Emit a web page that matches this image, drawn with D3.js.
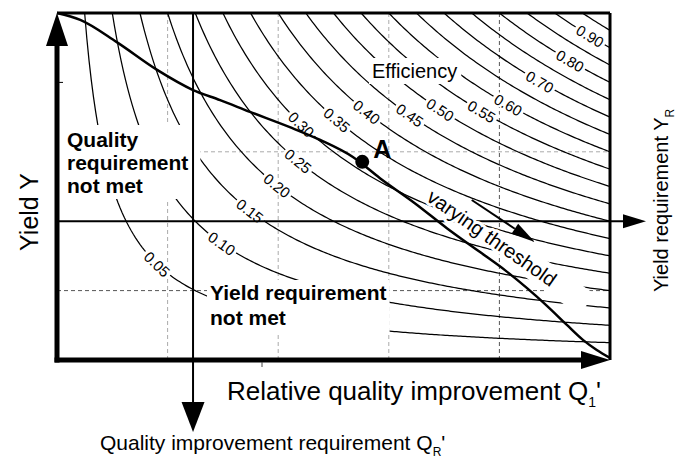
<!DOCTYPE html>
<html>
<head>
<meta charset="utf-8">
<script src="https://cdn.jsdelivr.net/npm/d3@7"></script>
<style>
  body { margin: 0; background: #fff; }
  svg { display: block; font-family: Arial, "Liberation Sans", sans-serif; }
</style>
</head>
<body>
<div id="chart"></div>
<script>
// efficiency iso-lines, E = Q1' * Y
const levels = [0.05, 0.10, 0.15, 0.20, 0.25, 0.30, 0.35, 0.40, 0.45, 0.50,
                0.55, 0.60, 0.65, 0.70, 0.75, 0.80, 0.85, 0.90, 0.95];
// labelled levels and where (Q1') the label sits on its line
const labelLevels = [0.05, 0.10, 0.15, 0.20, 0.25, 0.30, 0.35, 0.40, 0.45, 0.50, 0.55, 0.60, 0.70, 0.80, 0.90];
const labelQ = [0.181, 0.298, 0.349, 0.398, 0.436, 0.442, 0.506, 0.560, 0.638, 0.693, 0.768, 0.816, 0.873, 0.928, 0.964];

// varying threshold curve
const thrQ = [0, 0.042, 0.108, 0.181, 0.246, 0.295, 0.349, 0.421, 0.476, 0.535, 0.584, 0.647,
              0.705, 0.765, 0.810, 0.850, 0.886, 0.922, 0.951, 0.976, 1.0];
const thrY = [1.0, 0.980, 0.916, 0.836, 0.778, 0.749, 0.715, 0.671, 0.634, 0.585, 0.524, 0.452,
              0.380, 0.311, 0.259, 0.207, 0.156, 0.101, 0.058, 0.029, 0.006];

const gridQ = [0.2, 0.4, 0.6, 0.8];
const gridY = [0.2, 0.6];
const reqQ = 0.246;      // Q_R'
const reqY = 0.4;        // Y_R
const pointA = [0.552, 0.571];
const shiftArrow = [[0.750, 0.461], [0.864, 0.340]];

const W = 676, H = 464;
const x = d3.scaleLinear().domain([0, 1]).range([57, 610]);
const y = d3.scaleLinear().domain([0, 1]).range([360, 13]);

const svg = d3.select("#chart").append("svg")
    .attr("width", W)
    .attr("height", H);

// grid
svg.append("g").selectAll("line")
  .data(gridQ)
  .join("line")
    .attr("x1", d => x(d)).attr("x2", d => x(d))
    .attr("y1", y(1)).attr("y2", y(0))
    .attr("stroke", d => d == 0.8 ? "#555" : "#aaa")
    .attr("stroke-width", 1)
    .attr("stroke-dasharray", "4,3");
svg.append("g").selectAll("line")
  .data(gridY)
  .join("line")
    .attr("x1", x(0)).attr("x2", x(1))
    .attr("y1", d => y(d)).attr("y2", d => y(d))
    .attr("stroke", d => d == 0.2 ? "#555" : "#aaa")
    .attr("stroke-width", 1)
    .attr("stroke-dasharray", "4,3");

// contour lines
const line = d3.line().x(d => x(d[0])).y(d => y(d[1]));
function isoLine(e) {
  let qs = d3.range(e, 1, 0.004).concat([1]);
  return qs.map(q => [q, e / q]);
}
svg.append("g").selectAll("path")
  .data(levels)
  .join("path")
    .attr("d", d => line(isoLine(d)))
    .attr("fill", "none")
    .attr("stroke", "#000")
    .attr("stroke-width", 1.25);

// contour labels, turned along the line
const labs = svg.append("g").selectAll("g")
  .data(labelLevels.map((e, i) => ({ e: e, q: labelQ[i] })))
  .join("g")
    .attr("transform", d => {
      let px = x(d.q), py = y(d.e / d.q);
      let a = Math.atan2(y(d.e / (d.q + 0.01)) - y(d.e / (d.q - 0.01)),
                         x(d.q + 0.01) - x(d.q - 0.01)) * 180 / Math.PI;
      return "translate(" + px + "," + py + ") rotate(" + a + ")";
    });
labs.append("rect").attr("fill", "#fff");
labs.append("text")
    .attr("text-anchor", "middle")
    .attr("dominant-baseline", "central")
    .attr("font-size", 15)
    .text(d => d.e.toFixed(2));
labs.each(function () {
  let g = d3.select(this);
  let w = g.select("text").node().getComputedTextLength() + 5;
  g.select("rect").attr("x", -w / 2).attr("y", -6.5).attr("width", w).attr("height", 13);
});

// text blocks on a white patch
function block(lines, tx, ty, lh, size, weight, pad) {
  let g = svg.append("g");
  let r = g.append("rect").attr("fill", "#fff");
  let t = g.append("text")
      .attr("font-size", size)
      .attr("font-weight", weight);
  lines.forEach((s, i) => {
    t.append("tspan").attr("x", tx).attr("y", ty + i * lh).text(s);
  });
  let b = t.node().getBBox();
  r.attr("x", b.x - pad[3]).attr("y", b.y - pad[0])
   .attr("width", b.width + pad[1] + pad[3])
   .attr("height", b.height + pad[0] + pad[2]);
  return g;
}
block(["Quality", "requirement", "not met"], 67, 147, 23, 21, "bold", [3, 12, 2, 9]);
block(["Yield requirement", "not met"], 210, 300, 25, 21, "bold", [1, 3, 4, 3]);
block(["Efficiency"], 372, 78, 0, 20, "normal", [2, 4, 2, 3]);

// yield requirement Y_R
svg.append("line")
    .attr("x1", x(0)).attr("x2", 626)
    .attr("y1", y(reqY)).attr("y2", y(reqY))
    .attr("stroke", "#000").attr("stroke-width", 2);
svg.append("path")
    .attr("d", "M623," + (y(reqY) - 7) + "L646," + y(reqY) + "L623," + (y(reqY) + 7) + "Z")
    .attr("fill", "#000");

// "varying threshold"
const thx = 492, thy = 238, tha = 35;
const tg = svg.append("g").attr("transform", "translate(" + thx + "," + thy + ") rotate(" + tha + ")");
tg.append("rect").attr("x", 30).attr("y", -13).attr("width", 86).attr("height", 26).attr("fill", "#fff");
tg.append("text")
    .attr("text-anchor", "middle")
    .attr("dominant-baseline", "central")
    .attr("font-size", 20)
    .attr("stroke", "#fff").attr("stroke-width", 6)
    .attr("paint-order", "stroke")
    .attr("stroke-linejoin", "round")
    .text("varying threshold");

// quality requirement Q_R'
svg.append("line")
    .attr("x1", x(reqQ)).attr("x2", x(reqQ))
    .attr("y1", y(1)).attr("y2", 405)
    .attr("stroke", "#000").attr("stroke-width", 2);
svg.append("path")
    .attr("d", "M" + (x(reqQ) - 11.5) + ",402L" + x(reqQ) + ",432L" + (x(reqQ) + 11.5) + ",402Z")
    .attr("fill", "#000");

// frame and axes
svg.append("line").attr("x1", x(0)).attr("x2", x(1)).attr("y1", y(1)).attr("y2", y(1))
    .attr("stroke", "#000").attr("stroke-width", 3);
svg.append("line").attr("x1", x(1)).attr("x2", x(1)).attr("y1", y(1)).attr("y2", y(0))
    .attr("stroke", "#000").attr("stroke-width", 3);
svg.append("line").attr("x1", x(0)).attr("x2", x(0)).attr("y1", y(0) + 2.5).attr("y2", 42)
    .attr("stroke", "#000").attr("stroke-width", 5);
svg.append("path")
    .attr("d", "M" + (x(0) - 11) + ",46L" + x(0) + "," + y(1) + "L" + (x(0) + 11) + ",46Z")
    .attr("fill", "#000");
svg.append("line").attr("x1", x(0) - 2.5).attr("x2", 584).attr("y1", y(0)).attr("y2", y(0))
    .attr("stroke", "#000").attr("stroke-width", 5);
svg.append("path")
    .attr("d", "M581," + (y(0) - 9) + "L" + x(1) + "," + y(0) + "L581," + (y(0) + 9) + "Z")
    .attr("fill", "#000");
svg.append("line").attr("x1", x(0)).attr("x2", x(0) + 6).attr("y1", y(0.8)).attr("y2", y(0.8))
    .attr("stroke", "#000").attr("stroke-width", 1);
svg.append("line").attr("x1", 262).attr("x2", 262).attr("y1", y(0) + 2).attr("y2", y(0) + 7)
    .attr("stroke", "#444").attr("stroke-width", 1);

// threshold curve
svg.append("path")
    .attr("d", d3.line().curve(d3.curveMonotoneX)
        .x((d, i) => x(thrQ[i])).y((d, i) => y(thrY[i]))(thrQ))
    .attr("fill", "none")
    .attr("stroke", "#000")
    .attr("stroke-width", 2.5);

// shift arrow
let a0 = shiftArrow[0], a1 = shiftArrow[1];
let ax0 = x(a0[0]), ay0 = y(a0[1]), ax1 = x(a1[0]), ay1 = y(a1[1]);
let ang = Math.atan2(ay1 - ay0, ax1 - ax0);
let bx = ax1 - 24 * Math.cos(ang), by = ay1 - 24 * Math.sin(ang);
svg.append("line").attr("x1", ax0).attr("y1", ay0).attr("x2", bx).attr("y2", by)
    .attr("stroke", "#000").attr("stroke-width", 2);
svg.append("path")
    .attr("d", "M" + (bx + 6 * Math.sin(ang)) + "," + (by - 6 * Math.cos(ang)) +
               "L" + ax1 + "," + ay1 +
               "L" + (bx - 6 * Math.sin(ang)) + "," + (by + 6 * Math.cos(ang)) + "Z")
    .attr("fill", "#000");

// point A
svg.append("circle").attr("cx", x(pointA[0])).attr("cy", y(pointA[1])).attr("r", 7).attr("fill", "#000");
svg.append("text").attr("x", x(pointA[0]) + 11).attr("y", y(pointA[1]) - 4)
    .attr("font-size", 25).attr("font-weight", "bold").text("A");

// axis titles
svg.append("text")
    .attr("transform", "translate(38,212) rotate(-90)")
    .attr("text-anchor", "middle")
    .attr("font-size", 25)
    .text("Yield Y");

let t1 = svg.append("text").attr("x", 227).attr("y", 400).attr("font-size", 26)
    .text("Relative quality improvement Q");
t1.append("tspan").attr("font-size", 14).attr("dy", 7).text("1");
t1.append("tspan").attr("dy", -7).text("'");

let t2 = svg.append("text").attr("x", 100).attr("y", 450).attr("font-size", 21)
    .text("Quality improvement requirement Q");
t2.append("tspan").attr("font-size", 12).attr("dy", 6).text("R");
t2.append("tspan").attr("dy", -6).text("'");

let t3 = svg.append("text")
    .attr("transform", "translate(668,292) rotate(-90)")
    .attr("font-size", 20)
    .text("Yield requirement Y");
t3.append("tspan").attr("font-size", 12).attr("dy", 6).text("R");
</script>
</body>
</html>
